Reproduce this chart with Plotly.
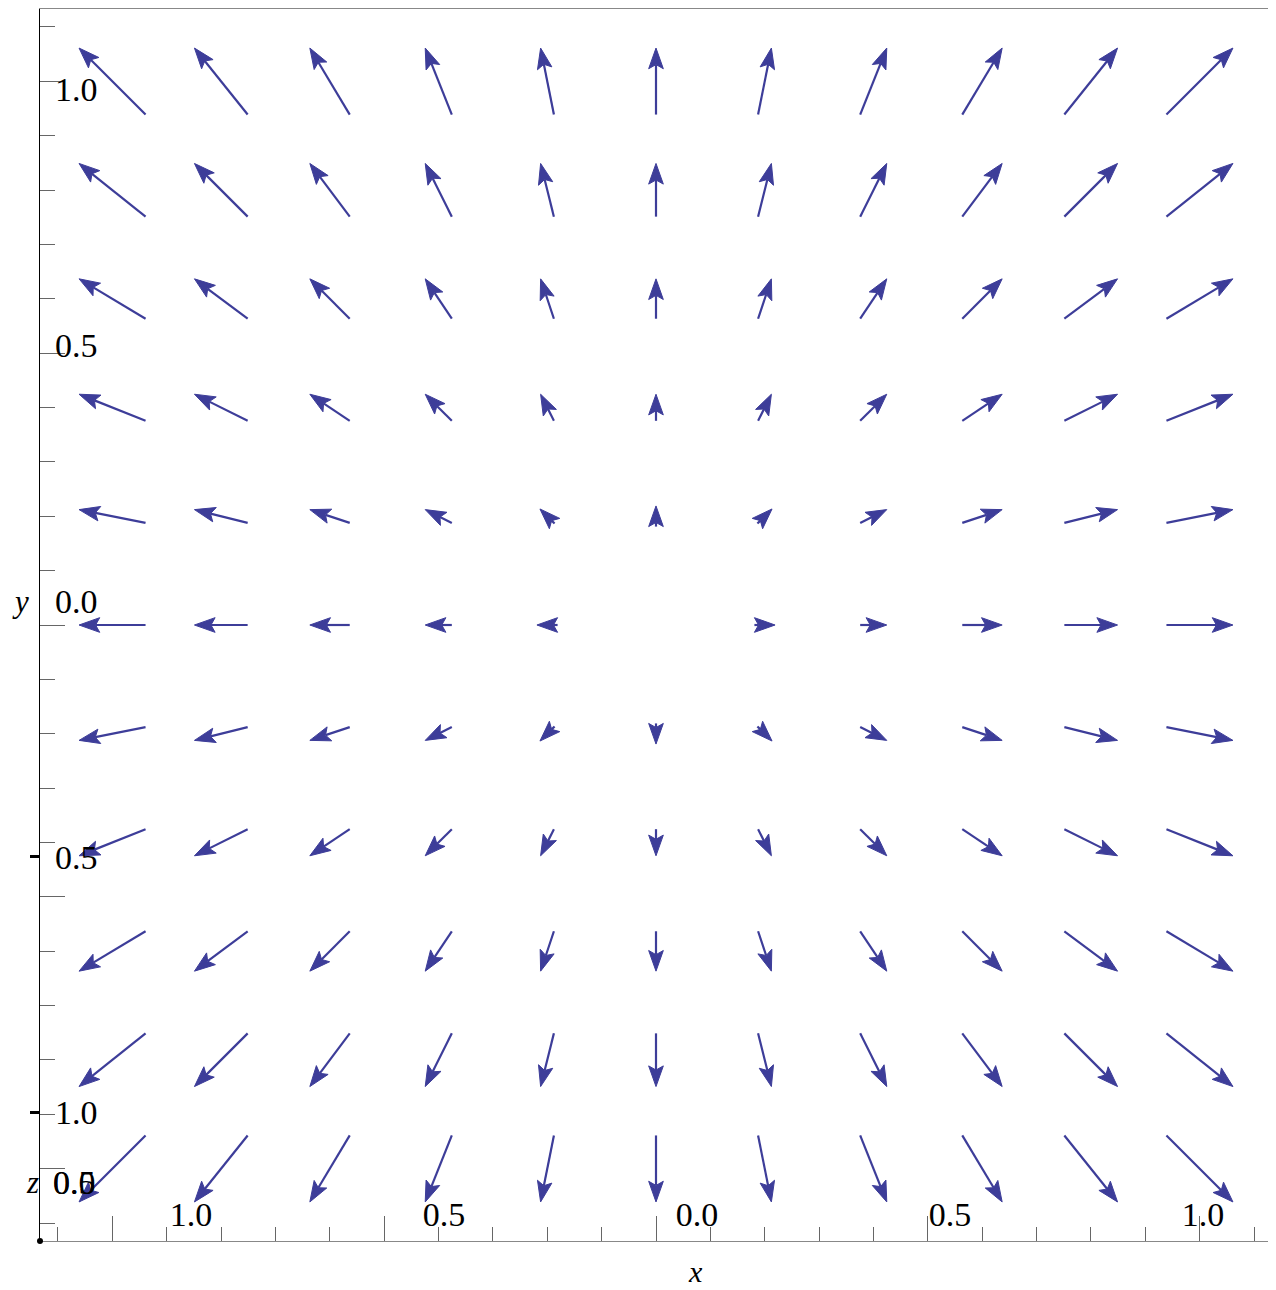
import math
import plotly.graph_objects as go

# ---------------- data ----------------
grid_x = [-1.0, -0.8, -0.6, -0.4, -0.2, 0.0, 0.2, 0.4, 0.6, 0.8, 1.0]
grid_y = [1.0, 0.8, 0.6, 0.4, 0.2, 0.0, -0.2, -0.4, -0.6, -0.8, -1.0]

# horizontal component of each arrow (rows follow grid_y, columns follow grid_x)
u_rows = [
    [-1.0, -0.8, -0.6, -0.4, -0.2, 0.0, 0.2, 0.4, 0.6, 0.8, 1.0],
    [-1.0, -0.8, -0.6, -0.4, -0.2, 0.0, 0.2, 0.4, 0.6, 0.8, 1.0],
    [-1.0, -0.8, -0.6, -0.4, -0.2, 0.0, 0.2, 0.4, 0.6, 0.8, 1.0],
    [-1.0, -0.8, -0.6, -0.4, -0.2, 0.0, 0.2, 0.4, 0.6, 0.8, 1.0],
    [-1.0, -0.8, -0.6, -0.4, -0.2, 0.0, 0.2, 0.4, 0.6, 0.8, 1.0],
    [-1.0, -0.8, -0.6, -0.4, -0.2, 0.0, 0.2, 0.4, 0.6, 0.8, 1.0],
    [-1.0, -0.8, -0.6, -0.4, -0.2, 0.0, 0.2, 0.4, 0.6, 0.8, 1.0],
    [-1.0, -0.8, -0.6, -0.4, -0.2, 0.0, 0.2, 0.4, 0.6, 0.8, 1.0],
    [-1.0, -0.8, -0.6, -0.4, -0.2, 0.0, 0.2, 0.4, 0.6, 0.8, 1.0],
    [-1.0, -0.8, -0.6, -0.4, -0.2, 0.0, 0.2, 0.4, 0.6, 0.8, 1.0],
    [-1.0, -0.8, -0.6, -0.4, -0.2, 0.0, 0.2, 0.4, 0.6, 0.8, 1.0],
]
# vertical component of each arrow
v_rows = [
    [1.0] * 11,
    [0.8] * 11,
    [0.6] * 11,
    [0.4] * 11,
    [0.2] * 11,
    [0.0] * 11,
    [-0.2] * 11,
    [-0.4] * 11,
    [-0.6] * 11,
    [-0.8] * 11,
    [-1.0] * 11,
]

# tick labels as printed in the picture (signs missing in the original)
x_label_vals = [-1.0, -0.5, 0.0, 0.5, 1.0]
x_label_text = ["1.0", "0.5", "0.0", "0.5", "1.0"]
y_label_vals = [1.0, 0.5, 0.0, -0.5, -1.0]
y_label_text = ["1.0", "0.5", "0.0", "0.5", "1.0"]
dash_vals = [-0.5, -1.0]

# ---------------- styling / geometry constants ----------------
ARROW_COLOR = "#3d3d99"
RANGE = 1.133
SCALE = 0.1223      # data units of arrow length per unit of vector magnitude
HEAD_LEN = 0.038    # arrow-head length (data units)
HEAD_HALF = 0.0135  # arrow-head half width
NOTCH = 0.8         # notch position as fraction of head length
FONT = "Liberation Serif"

shaft_x, shaft_y = [], []
head_x, head_y = [], []
for i, yy in enumerate(grid_y):
    for j, xx in enumerate(grid_x):
        u, v = u_rows[i][j], v_rows[i][j]
        m = math.hypot(u, v)
        if m == 0:
            continue
        ux, uy = u / m, v / m
        L = max(m * SCALE, HEAD_LEN)
        tx, ty = xx - ux * L / 2, yy - uy * L / 2
        hx, hy = xx + ux * L / 2, yy + uy * L / 2
        bx, by = hx - ux * HEAD_LEN, hy - uy * HEAD_LEN
        nx, ny = hx - ux * HEAD_LEN * NOTCH, hy - uy * HEAD_LEN * NOTCH
        px, py = -uy, ux
        if L > HEAD_LEN * NOTCH + 0.004:
            shaft_x += [tx, nx, None]
            shaft_y += [ty, ny, None]
        head_x += [hx, bx + px * HEAD_HALF, nx, bx - px * HEAD_HALF, hx, None]
        head_y += [hy, by + py * HEAD_HALF, ny, by - py * HEAD_HALF, hy, None]

fig = go.Figure()
fig.add_trace(go.Scatter(x=shaft_x, y=shaft_y, mode="lines",
                         line=dict(color=ARROW_COLOR, width=2.2),
                         hoverinfo="skip", showlegend=False))
fig.add_trace(go.Scatter(x=head_x, y=head_y, mode="lines", fill="toself",
                         fillcolor=ARROW_COLOR,
                         line=dict(color=ARROW_COLOR, width=1),
                         hoverinfo="skip", showlegend=False))
# invisible anchors for the label axes
fig.add_trace(go.Scatter(x=x_label_vals, y=y_label_vals, xaxis="x2", yaxis="y2",
                         mode="markers", marker=dict(opacity=0),
                         hoverinfo="skip", showlegend=False))
fig.add_trace(go.Scatter(x=x_label_vals[:2], y=dash_vals, xaxis="x2", yaxis="y3",
                         mode="markers", marker=dict(opacity=0),
                         hoverinfo="skip", showlegend=False))

tick_col = "#666666"
fig.update_layout(
    width=1268, height=1282,
    margin=dict(l=32, r=4, t=1, b=49),
    paper_bgcolor="white", plot_bgcolor="white",
    showlegend=False,
    xaxis=dict(range=[-RANGE, RANGE], showgrid=False, zeroline=False,
               showline=True, linecolor="#888888", linewidth=1.2, mirror=True,
               ticks="inside", tick0=0, dtick=0.5, ticklen=25, tickwidth=1.2,
               tickcolor=tick_col, showticklabels=False,
               minor=dict(ticks="inside", tick0=0, dtick=0.1, ticklen=14,
                          tickwidth=1.2, tickcolor=tick_col)),
    yaxis=dict(range=[-RANGE, RANGE], showgrid=False, zeroline=False,
               showline=True, linecolor="black", linewidth=1.3,
               ticks="inside", tick0=0, dtick=0.5, ticklen=25, tickwidth=1.2,
               tickcolor=tick_col, showticklabels=False,
               minor=dict(ticks="inside", tick0=0, dtick=0.1, ticklen=15,
                          tickwidth=1.2, tickcolor=tick_col)),
    xaxis2=dict(overlaying="x", anchor="y", side="bottom",
                range=[-1.2984, 1.1364], showgrid=False, zeroline=False,
                showline=False, ticks="", tickvals=x_label_vals,
                ticktext=x_label_text, ticklabelposition="inside",
                ticklabelstandoff=5,
                tickfont=dict(family=FONT, size=34, color="black")),
    yaxis2=dict(overlaying="y", anchor="x", side="left",
                range=[-1.2512, 1.1574], showgrid=False, zeroline=False,
                showline=False, ticks="", tickvals=y_label_vals,
                ticktext=y_label_text, ticklabelposition="inside",
                ticklabelstandoff=12,
                tickfont=dict(family=FONT, size=34, color="black")),
    yaxis3=dict(overlaying="y", anchor="x", side="left",
                range=[-1.2512, 1.1574], showgrid=False, zeroline=False,
                showline=False, ticks="outside", tickvals=dash_vals,
                ticklen=9, tickwidth=3, tickcolor="black",
                showticklabels=False),
)

def ann(text, x, y, size=30, italic=False):
    fig.add_annotation(text=f"<i>{text}</i>" if italic else text,
                       xref="paper", yref="paper", x=x, y=y,
                       xanchor="center", yanchor="middle", showarrow=False,
                       font=dict(family=FONT, size=size, color="black"))

ann("y", -0.0162, 0.519, size=31, italic=True)
ann("x", 0.5317, -0.0245, size=30, italic=True)
ann("z", -0.0057, 0.0471, size=31, italic=True)
ann("0.5", 0.0284, 0.0471, size=34)
ann("0.0", 0.0284, 0.0471, size=34)

# right border and corner dot
fig.add_shape(type="line", xref="paper", yref="paper", x0=1, x1=1, y0=0, y1=1,
              line=dict(color="#888888", width=1.2))
r = 3 / 1232
fig.add_shape(type="circle", xref="paper", yref="paper",
              x0=-r, x1=r, y0=-r, y1=r, fillcolor="black",
              line=dict(color="black", width=0))

fig.write_html("out.html")
